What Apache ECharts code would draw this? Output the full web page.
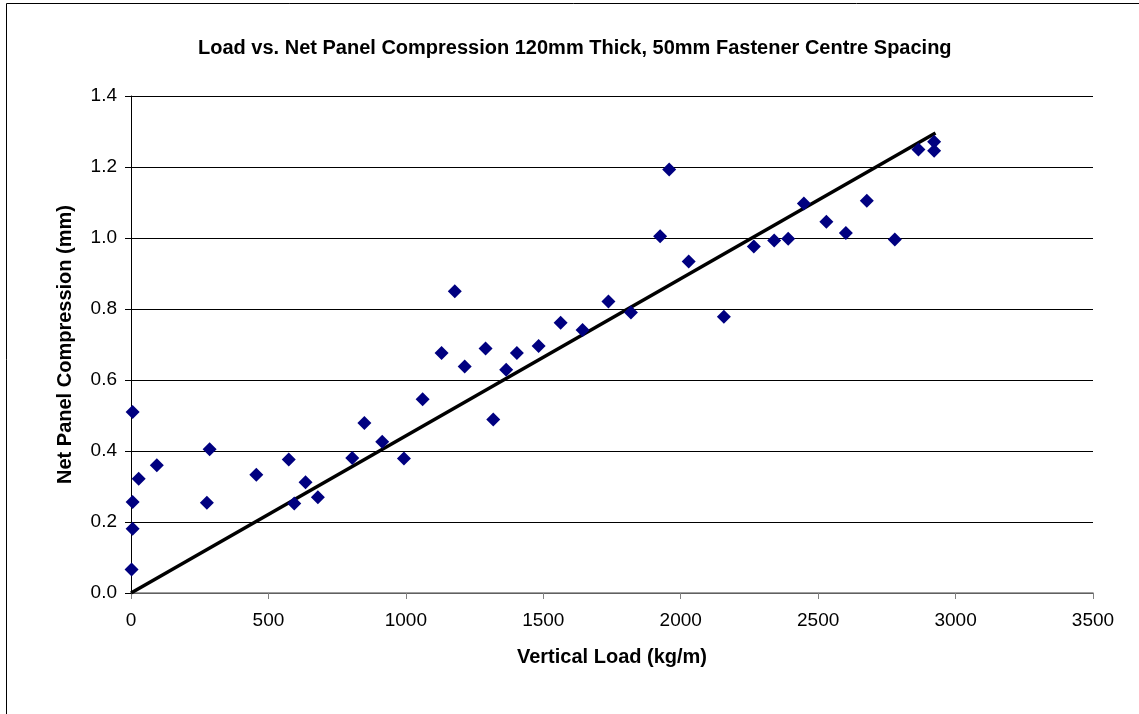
<!DOCTYPE html>
<html>
<head>
<meta charset="utf-8">
<script src="https://cdn.jsdelivr.net/npm/echarts@6/dist/echarts.min.js"></script>
<style>
  html, body { margin: 0; padding: 0; background: #fff; }
  #chart { width: 1139px; height: 714px; }
</style>
</head>
<body>
<div id="chart"></div>
<script>
// measured points: vertical load (kg/m) vs net panel compression (mm)
const loadKgM = [2, 6, 6, 6, 28, 94, 276, 286, 456, 574, 594, 635, 680, 805, 849, 914, 993, 1061, 1130, 1178,
  1214, 1290, 1318, 1365, 1404, 1483, 1563, 1643, 1737, 1819, 1925, 1958, 2029, 2157, 2266, 2340, 2391, 2448,
  2530, 2601, 2677, 2779, 2865, 2922, 2922];
const compressionMm = [0.066, 0.181, 0.256, 0.510, 0.322, 0.360, 0.254, 0.405, 0.333, 0.376, 0.252, 0.312, 0.270,
  0.380, 0.479, 0.426, 0.379, 0.546, 0.676, 0.850, 0.638, 0.689, 0.489, 0.629, 0.676, 0.696, 0.761, 0.741, 0.821,
  0.790, 1.005, 1.193, 0.934, 0.778, 0.976, 0.993, 0.998, 1.097, 1.046, 1.014, 1.105, 0.996, 1.249, 1.271, 1.246];

// linear trend line end points
const trendX = [0, 2927];
const trendY = [0, 1.296];

const font = "'Liberation Sans', Arial, sans-serif";

const chart = echarts.init(document.getElementById('chart'));

const option = {
  animation: false,
  backgroundColor: '#fff',
  title: {
    text: 'Load vs. Net Panel Compression 120mm Thick, 50mm Fastener Centre Spacing',
    left: 198,
    top: 38,
    padding: 0,
    textStyle: { fontFamily: font, fontSize: 20, fontWeight: 'bold', color: '#000' }
  },
  graphic: [{
    type: 'rect',
    shape: { x: 6.5, y: 3.5, width: 1200, height: 800 },
    style: { fill: 'none', stroke: '#000', lineWidth: 1 },
    silent: true
  }],
  grid: { left: 131, right: 46, top: 96, bottom: 121 },
  xAxis: {
    type: 'value',
    min: 0,
    max: 3500,
    interval: 500,
    name: 'Vertical Load (kg/m)',
    nameLocation: 'middle',
    nameGap: 54,
    nameTextStyle: { fontFamily: font, fontSize: 20, fontWeight: 'bold', color: '#000' },
    axisLine: { show: true, lineStyle: { color: '#808080', width: 1.5 } },
    axisTick: { show: true, length: 6, lineStyle: { color: '#808080' } },
    axisLabel: {
      fontFamily: font, fontSize: 19, color: '#000', margin: 18,
      formatter: v => String(v)
    },
    splitLine: { show: false }
  },
  yAxis: {
    type: 'value',
    min: 0,
    max: 1.4,
    interval: 0.2,
    name: 'Net Panel Compression (mm)',
    nameLocation: 'middle',
    nameGap: 56,
    nameTextStyle: { fontFamily: font, fontSize: 20, fontWeight: 'bold', color: '#000' },
    axisLine: { show: true, lineStyle: { color: '#000', width: 1 } },
    axisTick: { show: true, length: 6, lineStyle: { color: '#000' } },
    axisLabel: {
      fontFamily: font, fontSize: 19, color: '#000', margin: 14,
      formatter: v => v.toFixed(1)
    },
    splitLine: { show: true, lineStyle: { color: '#000', width: 1 } }
  },
  series: [
    {
      name: 'Trend',
      type: 'line',
      data: trendX.map((x, i) => [x, trendY[i]]),
      showSymbol: false,
      lineStyle: { color: '#000', width: 3.5 },
      z: 2
    },
    {
      name: 'Compression',
      type: 'scatter',
      data: loadKgM.map((x, i) => [x, compressionMm[i]]),
      symbol: 'diamond',
      symbolSize: 14,
      itemStyle: { color: '#000080', opacity: 1 },
      z: 3
    }
  ]
};

chart.setOption(option);
</script>
</body>
</html>
